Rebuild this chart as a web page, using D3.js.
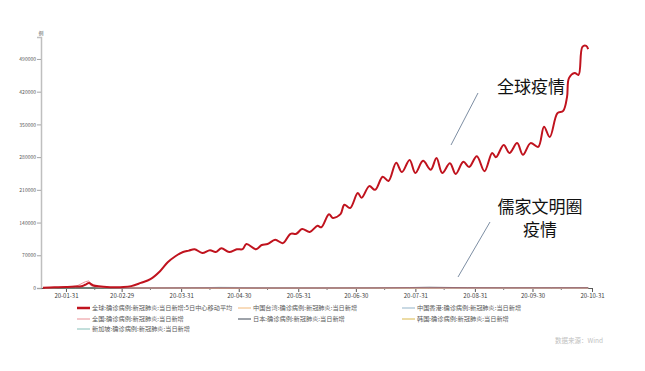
<!DOCTYPE html>
<html>
<head>
<meta charset="utf-8">
<script src="https://cdn.jsdelivr.net/npm/d3@7"></script>
<style>
  body { margin: 0; background: #fff; }
  text { font-family: "Noto Sans CJK SC", "Noto Sans", sans-serif; }
</style>
</head>
<body>
<div id="chart"></div>
<script>
// Global, 5-day centred moving average of daily new cases
var globalDates = ["2020-01-19","2020-01-25","2020-01-31","2020-02-05","2020-02-08","2020-02-10","2020-02-12","2020-02-14","2020-02-17","2020-02-23","2020-03-01","2020-03-05","2020-03-10","2020-03-15","2020-03-20","2020-03-24","2020-03-28","2020-04-01",
  "2020-04-04","2020-04-07","2020-04-11","2020-04-15","2020-04-18","2020-04-21","2020-04-25","2020-04-29","2020-05-02","2020-05-04","2020-05-09","2020-05-12","2020-05-15","2020-05-19","2020-05-23","2020-05-27","2020-05-30",
  "2020-06-02","2020-06-06","2020-06-10","2020-06-12","2020-06-16","2020-06-18","2020-06-22","2020-06-24","2020-06-27","2020-07-01","2020-07-03","2020-07-07","2020-07-10","2020-07-14","2020-07-17","2020-07-21","2020-07-24","2020-07-28","2020-07-31",
  "2020-08-04","2020-08-08","2020-08-11","2020-08-14","2020-08-18","2020-08-21","2020-08-25","2020-08-28","2020-09-01","2020-09-05","2020-09-09","2020-09-11","2020-09-15","2020-09-18","2020-09-22","2020-09-25","2020-09-29",
  "2020-10-03","2020-10-06","2020-10-09","2020-10-13","2020-10-16","2020-10-18","2020-10-19","2020-10-22","2020-10-24","2020-10-26","2020-10-28","2020-10-29"];
var globalValues = [500,1500,2200,3000,3600,7000,10500,6000,3500,1800,2000,4000,11000,19000,36000,55000,68000,77000,
  80000,83000,75000,81000,77000,85000,77000,83000,83000,94000,83000,92000,94000,103000,96000,116000,116000,
  126000,120000,133000,130000,158000,150000,158000,178000,171000,203000,193000,218000,210000,238000,229000,268000,248000,274000,246000,
  272000,253000,278000,246000,267000,244000,270000,259000,282000,250000,289000,280000,306000,289000,310000,285000,310000,
  302000,345000,323000,374000,379000,409000,449000,460000,456000,516000,518000,511000];

// Small series (daily new cases), rough readings
var smallDates = ["2020-01-20","2020-01-31","2020-02-05","2020-02-12","2020-02-13","2020-02-20","2020-03-01","2020-03-15","2020-04-05","2020-04-20","2020-05-10","2020-06-10","2020-07-10","2020-07-28","2020-08-07","2020-08-27","2020-09-15","2020-10-10","2020-10-29"];
var chinaValues     = [77,2000,3900,15150,5090,900,200,20,40,20,5,10,10,100,30,20,10,15,25];
var japanValues     = [0,3,2,5,10,15,20,50,350,400,50,40,300,1000,1500,800,550,600,700];
var koreaValues     = [0,3,3,5,0,50,900,80,80,10,30,40,40,30,40,400,150,70,120];
var hkValues        = [0,3,1,2,2,3,1,10,30,2,1,2,40,100,80,10,5,5,5];
var taiwanValues    = [0,1,1,0,0,1,1,10,5,1,0,0,0,1,2,1,0,3,1];
var singaporeValues = [0,3,5,2,2,3,2,15,120,1400,800,220,300,300,200,80,20,10,5];

var yTicks = [0,70000,140000,210000,280000,350000,420000,490000];
var xTickDates = ["2020-01-31","2020-02-29","2020-03-31","2020-04-30","2020-05-31","2020-06-30","2020-07-31","2020-08-31","2020-09-30","2020-10-31"];

var legendItems = [
  {name: "全球:确诊病例:新冠肺炎:当日新增:5日中心移动平均", color: "#c0131e", w: 2.5},
  {name: "中国台湾:确诊病例:新冠肺炎:当日新增", color: "#f1b878", w: 1},
  {name: "中国香港:确诊病例:新冠肺炎:当日新增", color: "#93b3c8", w: 1},
  {name: "全国:确诊病例:新冠肺炎:当日新增", color: "#ea8f95", w: 1},
  {name: "日本:确诊病例:新冠肺炎:当日新增", color: "#3c4654", w: 1},
  {name: "韩国:确诊病例:新冠肺炎:当日新增", color: "#d9b84a", w: 1},
  {name: "新加坡:确诊病例:新冠肺炎:当日新增", color: "#86bfb8", w: 1}
];

var parse = d3.timeParse("%Y-%m-%d");
var width = 645, height = 371;

var svg = d3.select("#chart").append("svg")
    .attr("width", width)
    .attr("height", height);

var x = d3.scaleTime()
    .domain([parse("2020-01-18"), parse("2020-10-31")])
    .range([41, 592]);

var y = d3.scaleLinear()
    .domain([0, 537000])
    .range([288, 37]);

// Axes
var yAxis = svg.append("g")
    .attr("transform", "translate(41,0)")
    .call(d3.axisLeft(y).tickValues(yTicks).tickSize(4).tickFormat(d3.format("d")));
yAxis.select(".domain").attr("stroke", "#bfbfbf").attr("stroke-width", 1.5);
yAxis.selectAll(".tick line").attr("stroke", "#a6a6a6");
yAxis.selectAll(".tick text").attr("fill", "#595959").style("font-size", "5px").attr("x", -5);

svg.append("text")
    .attr("x", 41)
    .attr("y", 35)
    .attr("text-anchor", "middle")
    .style("font-size", "5px")
    .attr("fill", "#595959")
    .text("例");

var xAxis = svg.append("g")
    .attr("transform", "translate(0,288)")
    .call(d3.axisBottom(x).tickValues(xTickDates.map(parse)).tickSize(4).tickSizeOuter(0)
        .tickFormat(d3.timeFormat("%y-%m-%d")));
xAxis.select(".domain").attr("stroke", "#595959").attr("stroke-width", 1);
xAxis.selectAll(".tick line").attr("stroke", "#595959");
xAxis.selectAll(".tick text").attr("fill", "#404040").style("font-size", "6px").attr("y", 6);

// minor ticks mid month
var minor = xTickDates.slice(0, -1).map(function(d) { return d3.timeDay.offset(parse(d), 15); });
svg.append("g").selectAll("line").data(minor).enter().append("line")
    .attr("x1", function(d) { return x(d); })
    .attr("x2", function(d) { return x(d); })
    .attr("y1", 288).attr("y2", 290)
    .attr("stroke", "#7f7f7f");

// small series lines
var smallSeries = [
  {vals: taiwanValues, color: legendItems[1].color},
  {vals: hkValues, color: legendItems[2].color},
  {vals: koreaValues, color: legendItems[5].color},
  {vals: singaporeValues, color: legendItems[6].color},
  {vals: japanValues, color: legendItems[4].color},
  {vals: chinaValues, color: legendItems[3].color}
];

var line = d3.line()
    .x(function(d) { return x(d.date); })
    .y(function(d) { return y(d.value); })
    .curve(d3.curveMonotoneX);

smallSeries.forEach(function(s) {
    var data = smallDates.map(function(d, i) { return {date: parse(d), value: s.vals[i]}; });
    svg.append("path")
        .attr("d", line(data))
        .attr("fill", "none")
        .attr("stroke", s.color)
        .attr("stroke-width", 1);
});

var globalData = globalDates.map(function(d, i) { return {date: parse(d), value: globalValues[i]}; });
svg.append("path")
    .attr("d", line.curve(d3.curveCatmullRom)(globalData))
    .attr("fill", "none")
    .attr("stroke", "#c0131e")
    .attr("stroke-width", 2);

// annotations
svg.append("line")
    .attr("x1", 451).attr("y1", 145).attr("x2", 478).attr("y2", 93)
    .attr("stroke", "#7d8ea3").attr("stroke-width", 1);
svg.append("text")
    .attr("x", 531).attr("y", 93)
    .attr("text-anchor", "middle")
    .style("font-size", "17px")
    .attr("fill", "#111")
    .text("全球疫情");

svg.append("line")
    .attr("x1", 458).attr("y1", 277).attr("x2", 490).attr("y2", 222)
    .attr("stroke", "#7d8ea3").attr("stroke-width", 1);
svg.append("text")
    .attr("x", 540).attr("y", 213)
    .attr("text-anchor", "middle")
    .style("font-size", "17px")
    .attr("fill", "#111")
    .text("儒家文明圈");
svg.append("text")
    .attr("x", 540).attr("y", 236)
    .attr("text-anchor", "middle")
    .style("font-size", "17px")
    .attr("fill", "#111")
    .text("疫情");

// legend
var legendPos = [[77, 308], [238, 308], [402, 308], [77, 319], [238, 319], [402, 319], [77, 329]];
legendItems.forEach(function(d, i) {
    var g = svg.append("g").attr("transform", "translate(" + legendPos[i][0] + "," + legendPos[i][1] + ")");
    g.append("line")
        .attr("x1", 0).attr("x2", 13)
        .attr("stroke", d.color)
        .attr("stroke-width", d.w);
    g.append("text")
        .attr("x", 15).attr("y", 2.3)
        .style("font-size", "6.2px")
        .attr("fill", "#595959")
        .text(d.name);
});

svg.append("text")
    .attr("x", 603).attr("y", 343)
    .attr("text-anchor", "end")
    .style("font-size", "6.5px")
    .attr("fill", "#bfbfbf")
    .text("数据来源：Wind");
</script>
</body>
</html>
